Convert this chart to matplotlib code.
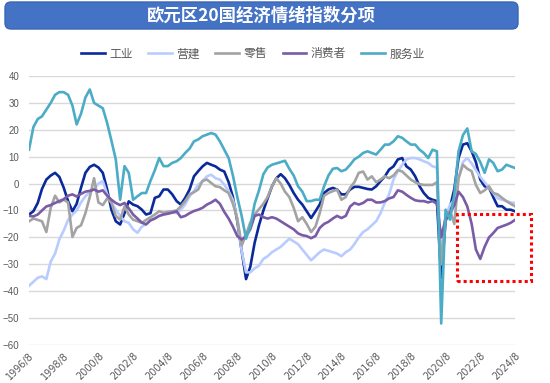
import matplotlib
matplotlib.use("Agg")
import matplotlib.pyplot as plt
import pandas as pd
from matplotlib.patches import FancyBboxPatch, Rectangle

# ---------------- data (quarterly readings, Aug 1996 - Aug 2024) ----------------
start_date = "1996-08-01"
n_points = 113

industry = [
    -11.5, -10.3, -7.2, -2, 1.5, 3, 4, 2.5, -1.5, -6.5,
    -10.3, -7.5, -1.5, 4, 6.2, 7, 6, 4, -2.2, -9.7,
    -14, -15.2, -11, -6.6, -7.8, -8.4, -9.7, -11.5, -11, -5.3,
    -4.7, -2.2, -2.2, -4, -6.5, -7.8, -5.3, -2.2, 2.7, 4.6,
    6.4, 7.7, 7, 6.4, 5.2, 4.5, 0.5, -5, -14, -25,
    -35.5, -31, -22, -15.5, -10, -5.5, -1, 2, 3.5, 2,
    -0.5, -3.5, -6, -7.8, -10.3, -12.8, -10.3, -7.8, -3.5, -2.2,
    -1.6, -2.2, -4, -4, -2.2, -1.2, -1.2, -1.6, -2, -2.2,
    -1, 0.9, 2.7, 5.2, 6.4, 9, 9.5, 6.4, 5.2, 2.7,
    -1, -3.5, -5.3, -6, -6.5, -35, -14, -9, -2, 9.5,
    14.5, 15, 12, 8, 1.5, -1, -1.5, -5, -8.4, -8.4,
    -9.7, -9.7, -10.3]

construction = [
    -38, -36.5, -35, -34.5, -35.5, -29, -26, -20.8, -17.5, -13.5,
    -11.5, -10, -7, -4.7, -3.2, -2, 0, 0.9, -4, -7,
    -9.7, -12, -14, -14.6, -17, -18.3, -16, -15, -13.4, -12.8,
    -12, -11.5, -11, -10.7, -11, -9.7, -7.8, -4.7, -2.8, -0.4,
    0.9, 2.7, 3.3, 2, 1.5, -0.4, -2.8, -6, -13, -25,
    -33, -33, -31.5, -30.5, -28, -27, -25.5, -24.5, -23.5, -22,
    -20.5, -21.5, -22.5, -24.5, -26.5, -28.5, -27, -25.5, -24.5, -25,
    -25.5, -26, -27, -25.5, -24.5, -22.5, -20, -18, -17, -15.5,
    -14, -11, -7, -4, 1.5, 4.6, 7, 9, 9.5, 9.5,
    9, 8.3, 7.7, 6.4, 6, -28, -12, -8, -6, 2,
    8, 9.5, 7.5, 5, 2.5, 0.5, -1.5, -3.5, -5.5, -6,
    -6.5, -7, -7.2]

retail = [
    -14, -13, -13.5, -14, -18, -9, -4.5, -7, -6, -7,
    -19.8, -16.5, -15.5, -11, -5, 2, -7, -8, -5.5, -7,
    -12, -13.4, -8.5, -11.5, -13.4, -14, -14.6, -13.5, -12.5, -11.5,
    -10.3, -10.8, -10.5, -10.3, -10, -8.5, -6.5, -4, -3.2, -2.2,
    1, 1.5, 0.2, -1, -1.3, -2.5, -3.5, -7.5, -13, -23,
    -19, -14.5, -11.5, -9.5, -7.5, -5, -1, 2, 0, -3,
    -5, -9, -14, -12.5, -15, -18, -16, -11, -4.5, -3.5,
    -2.8, -2.2, -6, -5, -1.5, 0.5, 4, 4.5, 1.5, 2.7,
    0.5, 1.5, 2.7, 2, 3, 5, 4.5, 3, 1.5, 0.5,
    -0.2, -0.5, -0.5, -0.5, 0.5, -30, -12, -10, -15, 2,
    7, 5.5, 4.6, -0.5, -3.5, -2.5, -1, -3.5, -4, -5.3,
    -6.5, -7.5, -8.4]

consumer = [
    -12, -12.2, -11.5, -10, -8.5, -8, -7.2, -6.5, -5.8, -4.5,
    -4, -4.8, -3.8, -3, -2.7, -2.2, -3, -2.5, -4.5, -6,
    -7.2, -8, -7.2, -9.2, -11.5, -13, -14.5, -15.2, -13.7, -13,
    -12, -11.5, -11.2, -10.8, -10.3, -12.5, -12, -11, -10.2, -9.7,
    -9, -7.8, -7, -6, -7.5, -10.5, -13, -16, -19.5, -20.8,
    -19.5, -17, -12, -11.5, -12.5, -13, -12.5, -13, -14, -15,
    -16, -17, -18.5, -19.2, -19.5, -20.3, -19.5, -16.5, -15, -14.2,
    -13, -12, -12.8, -12, -8.5, -7.2, -7.8, -7.2, -6, -6,
    -7, -7, -6.5, -5.5, -5, -2.5, -3, -4.2, -5.3, -6.2,
    -6.5, -6.5, -7, -6.5, -7.5, -20, -13, -11, -8, -3,
    -5, -8.5, -15, -24.5, -28, -23.5, -20, -18.4, -16.5, -15.9,
    -15.3, -14.6, -13.5]

services = [
    12.6, 21, 24, 25, 27.5, 30, 33, 34, 34, 33,
    29, 22, 26, 32, 35, 30, 29, 28, 22.5, 16,
    9, -6, 6.5, 4, -6, -4.7, -3.5, -3.5, 1, 5,
    9.5, 6.5, 6.5, 7.7, 8.3, 9.5, 11.4, 13, 15.7, 16.4,
    17.6, 18.2, 18.8, 18.2, 15.7, 12.6, 9.5, 3, -5, -12,
    -20.5, -16, -7.5, -2.5, 3.5, 6, 7, 7.5, 8, 8.5,
    5.5, 3, -1, -3, -6.5, -6.5, -6, -6, -1, 3,
    5.5, 5.8, 4.6, 5.2, 7, 9, 10, 11.4, 12, 11.4,
    10.8, 12.6, 14.5, 14.5, 15.7, 17.6, 17, 15.7, 14.5, 14.5,
    12.6, 11.4, 9.5, 12.6, 12, -52, -9.7, -13.4, -4, 12,
    18, 20.5, 12, 11, 8, 4, 9, 7.7, 4.6, 5.2,
    7, 6.4, 5.8]

series_names = ["工业", "营建", "零售", "消费者", "服务业"]
series_colors = ["#0A2A9C", "#B9CCFF", "#A3A3A3", "#7A5BA6", "#4BACC6"]

tick_labels = ["1996/8", "1998/8", "2000/8", "2002/8", "2004/8", "2006/8",
               "2008/8", "2010/8", "2012/8", "2014/8", "2016/8", "2018/8",
               "2020/8", "2022/8", "2024/8"]
y_ticks = [40, 30, 20, 10, 0, -10, -20, -30, -40, -50, -60]
title = "欧元区20国经济情绪指数分项"

# ---------------- figure ----------------
plt.rcParams["font.family"] = ["Noto Sans CJK SC", "DejaVu Sans"]
fig = plt.figure(figsize=(5.5, 3.83), dpi=100)
W, H = 550, 383
ax = fig.add_axes([29 / W, 1 - 345 / H, (515 - 29) / W, (345 - 76) / H])

dates = pd.date_range(start_date, periods=n_points, freq="3MS")
all_series = [industry, construction, retail, consumer, services]
order = [1, 2, 0, 3, 4]
lines = {}
for k in order:
    ln, = ax.plot(dates, all_series[k], color=series_colors[k], lw=1.9,
                  label=series_names[k], solid_joinstyle="round", zorder=3 + k)
    lines[k] = ln

ax.set_ylim(min(y_ticks), max(y_ticks))
ax.set_xlim(dates[0], dates[-1])
ax.set_yticks(y_ticks)
ax.set_yticklabels([str(v).replace("-", "\u2212") for v in y_ticks],
                   family=["Liberation Sans", "DejaVu Sans"], fontsize=7,
                   color="#595959")
ax.yaxis.grid(True, color="#D9D9D9", lw=1.0)
ax.set_axisbelow(True)
for s in ax.spines.values():
    s.set_visible(False)

tick_pos = pd.to_datetime([t.replace("/", "-") + "-01" for t in tick_labels])
ax.set_xticks(tick_pos)
ax.set_xticklabels(tick_labels, rotation=45, ha="right", rotation_mode="anchor",
                   fontsize=7, color="#595959", family="DejaVu Sans")
ax.tick_params(axis="x", length=0, pad=4)
ax.tick_params(axis="y", length=0, pad=7)

# title box
box = FancyBboxPatch((5 / 100, (H - 29) / 100), 513 / 100, 27 / 100,
                     boxstyle="round,pad=0,rounding_size=0.06",
                     transform=fig.dpi_scale_trans, facecolor="#4472C4",
                     edgecolor="#3B66B5", lw=1.0)
fig.patches.append(box)
fig.text(261.5 / W, 1 - 15.5 / H, title, ha="center", va="center",
         color="white", fontsize=12.5, fontweight="bold")

# legend
handles = [lines[k] for k in range(5)]
leg = fig.legend(handles, series_names, loc="center",
                 bbox_to_anchor=(253 / W, 1 - 54 / H), ncol=5, frameon=False,
                 fontsize=8.5, handlelength=2.0, handletextpad=0.4,
                 columnspacing=1.3)
for t in leg.get_texts():
    t.set_color("#595959")

# red dotted highlight box
rect = Rectangle((457 / W, 1 - 281 / H), (531 - 457) / W, (281 - 214) / H,
                 transform=fig.transFigure, fill=False, edgecolor="#FF0000",
                 lw=2.2, linestyle=(0, (1, 1)), zorder=20)
fig.patches.append(rect)

fig.savefig("out.png", dpi=100, facecolor="white")
